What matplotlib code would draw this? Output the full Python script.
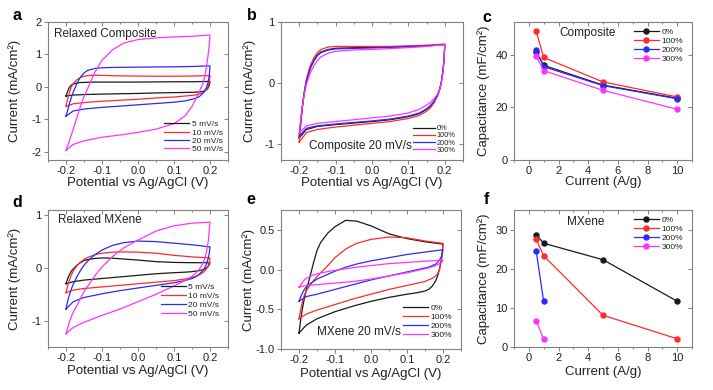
import matplotlib
matplotlib.use("Agg")
import matplotlib.pyplot as plt
from matplotlib.ticker import MultipleLocator, FormatStrFormatter

plt.rcParams['font.family'] = ['Liberation Sans', 'DejaVu Sans']
plt.rcParams['axes.unicode_minus'] = False

# ---------------- data ----------------
# common potential grids (V) for forward (anodic) and reverse (cathodic) scans
fwd_v = [-0.2, -0.195, -0.19, -0.185, -0.18, -0.17, -0.16, -0.15, -0.14, -0.12, -0.1, -0.07, -0.04, 0.0, 0.05, 0.1, 0.15, 0.2]
rev_v = [0.2, 0.198, 0.195, 0.19, 0.185, 0.18, 0.17, 0.16, 0.15, 0.13, 0.1, 0.05, 0.0, -0.05, -0.1, -0.15, -0.18, -0.2]

# (a) relaxed composite, scan rates
a_labels = ['5 mV/s', '10 mV/s', '20 mV/s', '50 mV/s']
a_fwd = [
    [-0.28, -0.12, 0.0, 0.06, 0.09, 0.12, 0.135, 0.14, 0.145, 0.15, 0.15, 0.15, 0.15, 0.15, 0.155, 0.16, 0.16, 0.17],
    [-0.6, -0.35, -0.15, 0.0, 0.1, 0.22, 0.29, 0.33, 0.35, 0.36, 0.355, 0.345, 0.34, 0.335, 0.33, 0.33, 0.335, 0.35],
    [-0.9, -0.7, -0.5, -0.32, -0.16, 0.1, 0.3, 0.43, 0.51, 0.57, 0.59, 0.6, 0.605, 0.61, 0.615, 0.62, 0.63, 0.65],
    [-1.95, -1.8, -1.64, -1.47, -1.3, -0.95, -0.6, -0.3, -0.05, 0.45, 0.82, 1.15, 1.35, 1.46, 1.51, 1.54, 1.56, 1.6],
]
a_rev = [
    [0.17, 0.05, -0.03, -0.09, -0.12, -0.14, -0.155, -0.16, -0.165, -0.17, -0.175, -0.185, -0.2, -0.21, -0.22, -0.235, -0.25, -0.28],
    [0.35, 0.15, 0.02, -0.08, -0.14, -0.18, -0.22, -0.245, -0.26, -0.28, -0.31, -0.34, -0.38, -0.41, -0.44, -0.48, -0.52, -0.6],
    [0.65, 0.35, 0.15, -0.02, -0.12, -0.2, -0.3, -0.35, -0.38, -0.43, -0.47, -0.51, -0.55, -0.59, -0.63, -0.68, -0.74, -0.9],
    [1.6, 1.3, 1.0, 0.6, 0.3, 0.1, -0.15, -0.38, -0.6, -0.9, -1.13, -1.3, -1.4, -1.48, -1.55, -1.66, -1.77, -1.95],
]

# (b) composite 20 mV/s, strain cycles
b_labels = ['0%', '100%', '200%', '300%']
b_fwd = [
    [-0.9, -0.6, -0.33, -0.12, 0.04, 0.24, 0.37, 0.46, 0.51, 0.55, 0.57, 0.575, 0.58, 0.585, 0.59, 0.6, 0.61, 0.63],
    [-0.97, -0.62, -0.32, -0.1, 0.07, 0.28, 0.41, 0.5, 0.55, 0.59, 0.6, 0.6, 0.6, 0.6, 0.6, 0.61, 0.62, 0.64],
    [-0.87, -0.58, -0.32, -0.12, 0.03, 0.23, 0.36, 0.45, 0.5, 0.54, 0.56, 0.565, 0.57, 0.575, 0.585, 0.595, 0.61, 0.63],
    [-0.82, -0.55, -0.32, -0.15, -0.02, 0.16, 0.28, 0.37, 0.43, 0.49, 0.52, 0.535, 0.545, 0.55, 0.565, 0.58, 0.6, 0.63],
]
b_rev = [
    [0.63, 0.4, 0.2, 0.0, -0.12, -0.2, -0.31, -0.38, -0.43, -0.5, -0.55, -0.6, -0.63, -0.655, -0.68, -0.71, -0.76, -0.9],
    [0.64, 0.4, 0.2, 0.0, -0.13, -0.21, -0.33, -0.41, -0.46, -0.53, -0.58, -0.63, -0.66, -0.69, -0.72, -0.76, -0.81, -0.97],
    [0.63, 0.4, 0.2, 0.0, -0.12, -0.2, -0.3, -0.37, -0.42, -0.49, -0.54, -0.59, -0.62, -0.645, -0.67, -0.7, -0.74, -0.87],
    [0.63, 0.38, 0.17, -0.02, -0.12, -0.18, -0.26, -0.32, -0.36, -0.43, -0.49, -0.54, -0.57, -0.6, -0.63, -0.66, -0.7, -0.82],
]

# (c) composite capacitance vs current density
cur_density = [0.5, 1, 5, 10]
c_cap = [
    [41.0, 36.0, 28.5, 23.5],
    [49.0, 39.0, 29.7, 24.0],
    [42.0, 35.5, 28.3, 23.3],
    [39.5, 34.0, 26.5, 19.3],
]

# (d) relaxed MXene, scan rates
d_fwd = [
    [-0.3, -0.2, -0.12, -0.06, -0.02, 0.05, 0.1, 0.14, 0.16, 0.18, 0.19, 0.185, 0.17, 0.15, 0.12, 0.105, 0.1, 0.1],
    [-0.47, -0.33, -0.22, -0.13, -0.06, 0.04, 0.11, 0.16, 0.2, 0.25, 0.28, 0.3, 0.305, 0.3, 0.28, 0.24, 0.21, 0.19],
    [-0.78, -0.62, -0.5, -0.4, -0.31, -0.17, -0.05, 0.05, 0.13, 0.25, 0.34, 0.43, 0.48, 0.51, 0.5, 0.47, 0.44, 0.4],
    [-1.25, -1.13, -1.02, -0.92, -0.84, -0.72, -0.58, -0.45, -0.35, -0.15, 0.02, 0.22, 0.38, 0.53, 0.7, 0.8, 0.85, 0.87],
]
d_rev = [
    [0.1, 0.06, 0.03, 0.0, -0.02, -0.035, -0.05, -0.06, -0.07, -0.08, -0.09, -0.11, -0.14, -0.17, -0.2, -0.23, -0.26, -0.3],
    [0.19, 0.1, 0.04, -0.02, -0.06, -0.09, -0.13, -0.16, -0.18, -0.21, -0.24, -0.27, -0.3, -0.33, -0.36, -0.39, -0.42, -0.47],
    [0.4, 0.28, 0.18, 0.07, 0.0, -0.05, -0.12, -0.17, -0.2, -0.24, -0.28, -0.33, -0.38, -0.43, -0.49, -0.56, -0.64, -0.78],
    [0.87, 0.7, 0.5, 0.3, 0.17, 0.08, -0.03, -0.1, -0.16, -0.24, -0.34, -0.5, -0.64, -0.78, -0.9, -1.03, -1.13, -1.25],
]

# (e) MXene 20 mV/s, strain cycles
e_fwd = [
    [-0.8, -0.62, -0.48, -0.36, -0.26, -0.1, 0.08, 0.24, 0.34, 0.46, 0.54, 0.62, 0.61, 0.55, 0.45, 0.39, 0.35, 0.32],
    [-0.62, -0.5, -0.4, -0.32, -0.27, -0.2, -0.14, -0.09, -0.04, 0.05, 0.15, 0.26, 0.33, 0.38, 0.41, 0.4, 0.36, 0.33],
    [-0.4, -0.34, -0.29, -0.25, -0.22, -0.18, -0.15, -0.12, -0.1, -0.06, -0.02, 0.03, 0.07, 0.11, 0.15, 0.19, 0.22, 0.25],
    [-0.22, -0.19, -0.16, -0.13, -0.11, -0.09, -0.07, -0.055, -0.045, -0.025, -0.01, 0.01, 0.03, 0.05, 0.075, 0.09, 0.105, 0.12],
]
e_rev = [
    [0.32, 0.22, 0.12, 0.0, -0.08, -0.14, -0.21, -0.25, -0.27, -0.29, -0.31, -0.35, -0.4, -0.46, -0.53, -0.62, -0.7, -0.8],
    [0.33, 0.2, 0.1, 0.0, -0.05, -0.08, -0.11, -0.13, -0.15, -0.17, -0.2, -0.25, -0.31, -0.37, -0.44, -0.51, -0.56, -0.62],
    [0.25, 0.2, 0.16, 0.12, 0.09, 0.07, 0.05, 0.03, 0.02, 0.0, -0.03, -0.08, -0.13, -0.19, -0.25, -0.31, -0.34, -0.4],
    [0.12, 0.1, 0.09, 0.075, 0.06, 0.05, 0.035, 0.02, 0.01, -0.01, -0.04, -0.08, -0.12, -0.15, -0.17, -0.19, -0.2, -0.22],
]

# (f) MXene capacitance vs current density
f_x = [[0.5, 1, 5, 10], [0.5, 1, 5, 10], [0.5, 1], [0.5, 1]]
f_cap = [
    [28.7, 26.5, 22.3, 11.7],
    [27.5, 23.3, 8.1, 2.1],
    [24.4, 11.7],
    [6.6, 2.0],
]

colors = ['#1a1a1a', '#ff2a2a', '#2a2aff', '#ff33ff']
frame_col = '#808080'
txt_col = '#222222'

# ---------------- figure ----------------
fig = plt.figure(figsize=(7.13, 3.90), dpi=100)
W, H = 713.0, 390.0


def make_ax(l, r, t, b):
    return fig.add_axes([l / W, 1 - b / H, (r - l) / W, (b - t) / H])


def style(ax, xlab, ylab, xlab_y, ylab_x, minor_x):
    for s in ax.spines.values():
        s.set_color(frame_col)
        s.set_linewidth(0.8)
    ax.tick_params(which='both', colors=frame_col, labelcolor=txt_col, labelsize=8, width=0.7)
    ax.tick_params(which='major', direction='out', length=3, top=False, right=False)
    ax.tick_params(which='minor', direction='out', length=1.6, top=False, right=False)
    ax.tick_params(axis='x', which='major', pad=1.0)
    ax.tick_params(axis='y', which='major', pad=1.5)
    ax.xaxis.set_minor_locator(MultipleLocator(minor_x))
    sec_x = ax.secondary_xaxis('top')
    sec_y = ax.secondary_yaxis('right')
    for sec in (sec_x, sec_y):
        sec.tick_params(which='both', direction='in', colors=frame_col, width=0.7)
        sec.tick_params(which='major', length=3)
        sec.tick_params(which='minor', length=1.6)
        for s in sec.spines.values():
            s.set_visible(False)
    sec_x.set_xticks(ax.get_xticks())
    sec_x.xaxis.set_minor_locator(MultipleLocator(minor_x))
    sec_x.set_xticklabels([])
    sec_y.set_yticks(ax.get_yticks())
    sec_y.set_yticklabels([])
    ax.set_xlabel(xlab, fontsize=9.5, color=txt_col)
    ax.set_ylabel(ylab, fontsize=9.5, color=txt_col)
    ax.xaxis.label.set_va('center')
    ax.yaxis.label.set_va('center')
    ax.xaxis.set_label_coords(0.5, xlab_y)
    ax.yaxis.set_label_coords(ylab_x, 0.5)


def cv_panel(ax, fwd, rev, labels, ylim, yticks, yfmt, note, note_xy, leg_anchor, leg_spacing, leg_fs):
    for k in range(4):
        ax.plot(fwd_v + rev_v, fwd[k] + rev[k], color=colors[k], lw=0.9, label=labels[k])
    ax.set_xlim(-0.25, 0.25)
    ax.set_ylim(*ylim)
    ax.set_xticks([-0.2, -0.1, 0.0, 0.1, 0.2])
    ax.xaxis.set_major_formatter(FormatStrFormatter('%.1f'))
    ax.set_yticks(yticks)
    ax.yaxis.set_major_formatter(FormatStrFormatter(yfmt))
    ax.text(note_xy[0], note_xy[1], note, transform=ax.transAxes, fontsize=8.5,
            color=txt_col, ha='left', va='center')
    leg = ax.legend(loc='lower right', bbox_to_anchor=leg_anchor, frameon=False, fontsize=leg_fs,
                    handlelength=3.0, handletextpad=0.3, labelspacing=leg_spacing,
                    borderaxespad=0.0, borderpad=0.0)
    for t in leg.get_texts():
        t.set_color(txt_col)


def cap_panel(ax, xs, caps, labels, ylim, yticks, note, note_xy):
    for k in range(4):
        ax.plot(xs[k], caps[k], color=colors[k], lw=0.9, marker='o', ms=3.6,
                mec=colors[k], label=labels[k])
    ax.set_xlim(-1, 11)
    ax.set_ylim(*ylim)
    ax.set_xticks([0, 2, 4, 6, 8, 10])
    ax.set_yticks(yticks)
    ax.text(note_xy[0], note_xy[1], note, transform=ax.transAxes, fontsize=8.5,
            color=txt_col, ha='left', va='center')
    leg = ax.legend(loc='upper right', bbox_to_anchor=(0.95, 0.955), frameon=False, fontsize=6,
                    handlelength=3.0, handletextpad=0.3, labelspacing=0.15,
                    borderaxespad=0.0, borderpad=0.0)
    for t in leg.get_texts():
        t.set_color(txt_col)


xl_cv = 'Potential vs Ag/AgCl (V)'
yl_cv = 'Current (mA/cm²)'
xl_cap = 'Current (A/g)'
yl_cap = 'Capacitance (mF/cm²)'

# (a)
ax_a = make_ax(48, 228, 22, 160)
cv_panel(ax_a, a_fwd, a_rev, a_labels, (-2.25, 2), [-2, -1, 0, 1, 2], '%d',
         'Relaxed Composite', (0.035, 0.915), (0.97, 0.05), 0.05, 6)
style(ax_a, xl_cv, yl_cv, -0.168, -0.183, 0.05)

# (b)
ax_b = make_ax(281, 463, 22, 160)
cv_panel(ax_b, b_fwd, b_rev, b_labels, (-1.26, 1), [-1, 0, 1], '%d',
         'Composite 20 mV/s', (0.155, 0.105), (0.96, 0.045), 0.0, 5.3)
style(ax_b, xl_cv, yl_cv, -0.168, -0.17, 0.05)

# (c)
ax_c = make_ax(514, 692, 22, 160)
cap_panel(ax_c, [cur_density] * 4, c_cap, b_labels, (0, 52.5), [0, 20, 40], 'Composite', (0.255, 0.918))
style(ax_c, xl_cap, yl_cap, -0.163, -0.172, 1)

# (d)
ax_d = make_ax(48, 228, 210, 347)
cv_panel(ax_d, d_fwd, d_rev, a_labels, (-1.5, 1.1), [-1, 0, 1], '%d',
         'Relaxed MXene', (0.057, 0.927), (0.95, 0.21), 0.15, 6)
style(ax_d, xl_cv, yl_cv, -0.172, -0.183, 0.05)

# (e)
ax_e = make_ax(281, 461, 210, 349)
cv_panel(ax_e, e_fwd, e_rev, b_labels, (-1.0, 0.75), [-1.0, -0.5, 0.0, 0.5], '%.1f',
         'MXene 20 mV/s', (0.198, 0.12), (0.95, 0.07), 0.15, 6)
style(ax_e, xl_cv, yl_cv, -0.177, -0.182, 0.05)

# (f)
ax_f = make_ax(514, 692, 210, 347)
cap_panel(ax_f, f_x, f_cap, b_labels, (0, 35), [0, 10, 20, 30], 'MXene', (0.296, 0.91))
style(ax_f, xl_cap, yl_cap, -0.182, -0.172, 1)

# panel letters
for letter, (px, py) in zip('abcdef', [(17, 16), (252, 16), (487, 17), (17, 202), (251, 199), (486, 199)]):
    fig.text(px / W, 1 - py / H, letter, fontsize=11.5, fontweight='bold', ha='center', va='center')

fig.savefig('out.png', dpi=100)
